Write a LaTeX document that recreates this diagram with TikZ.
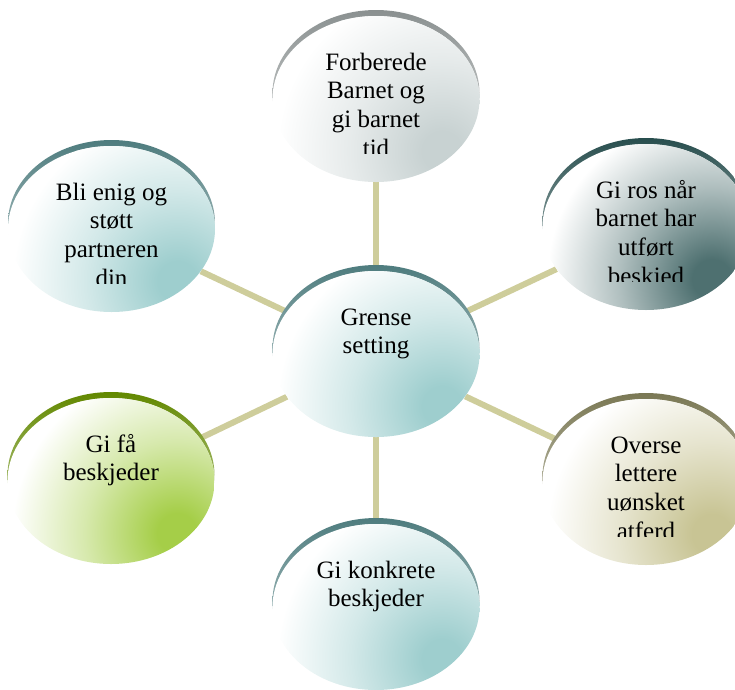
\documentclass[tikz,border=0pt]{standalone}
\usepackage{fontspec}
\setmainfont{Liberation Serif}
\usetikzlibrary{shapes.geometric}
\definecolor{linkc}{RGB}{206,205,155}
\definecolor{crGray}{RGB}{138,144,144}
\definecolor{bdGray}{RGB}{200,210,210}
\definecolor{crDark}{RGB}{40,78,78}
\definecolor{bdDark}{RGB}{78,112,112}
\definecolor{crOlive}{RGB}{122,120,84}
\definecolor{bdOlive}{RGB}{200,196,148}
\definecolor{crTeal}{RGB}{78,124,126}
\definecolor{bdTeal}{RGB}{158,206,206}
\definecolor{crGreen}{RGB}{98,136,0}
\definecolor{bdGreen}{RGB}{165,206,72}
\colorlet{bubcol}{bdTeal}
\colorlet{bubmid}{bdTeal!35!white}
\pgfdeclareradialshading[bubcol,bubmid]{bubglow}{\pgfpointorigin}{color(0bp)=(bubcol); color(3bp)=(bubcol); color(14bp)=(bubmid); color(25bp)=(white); color(50bp)=(white)}
\tikzset{
  hub/.style={ellipse, minimum width=207pt, minimum height=166pt, inner sep=0pt, draw=none},
  conn/.style={draw=linkc, line width=6pt},
  bubbletext/.style={align=center, anchor=north, inner sep=0pt,
    font=\fontsize{25}{28.6}\selectfont, text=black}
}
\newcommand\bubble[4]{%
  \begin{scope}[shift={(#1.center)}]
    \shade[top color=#2, bottom color=#2!25!white] (0,-6) ellipse [x radius=103.5pt, y radius=83pt];
    \fill[white] (0,0) ellipse [x radius=103.5pt, y radius=83pt];
    \begin{scope}
      \clip (0,0) ellipse [x radius=103.5pt, y radius=83pt];
      \colorlet{bubcol}{#3}\colorlet{bubmid}{#3!45!white}%
      \shade[shading=bubglow] (66,52) circle (165pt);
    \end{scope}
    \begin{scope}
      \clip (-103,-89) rectangle (103,54);
      \node[bubbletext] (#1txt) at (0,-49) {\strut #4};
    \end{scope}
  \end{scope}}
\begin{document}
\begin{tikzpicture}[x=1pt,y=-1pt]
  \useasboundingbox (0,0) rectangle (735,689);
  \clip (0,0) rectangle (735,689);
  \node[hub] (c)  at (376,354) {};
  \node[hub] (t)  at (376,99)  {};
  \node[hub] (tr) at (646,227) {};
  \node[hub] (tl) at (111.5,229) {};
  \node[hub] (bl) at (111,481) {};
  \node[hub] (br) at (646,482) {};
  \node[hub] (b)  at (376,607) {};
  \draw[conn] (c) -- (t);
  \draw[conn] (c) -- (tr);
  \draw[conn] (c) -- (br);
  \draw[conn] (c) -- (b);
  \draw[conn] (c) -- (bl);
  \draw[conn] (c) -- (tl);
  \bubble{t}{crGray}{bdGray}{Forberede\\Barnet og\\gi barnet\\tid}
  \bubble{tr}{crDark}{bdDark}{Gi ros når\\barnet har\\utført\\beskjed}
  \bubble{br}{crOlive}{bdOlive}{Overse\\lettere\\uønsket\\atferd}
  \bubble{b}{crTeal}{bdTeal}{Gi konkrete\\beskjeder}
  \bubble{bl}{crGreen}{bdGreen}{Gi få\\beskjeder}
  \bubble{tl}{crTeal}{bdTeal}{Bli enig og\\støtt\\partneren\\din}
  \bubble{c}{crTeal}{bdTeal}{Grense\\setting}
\end{tikzpicture}
\end{document}
